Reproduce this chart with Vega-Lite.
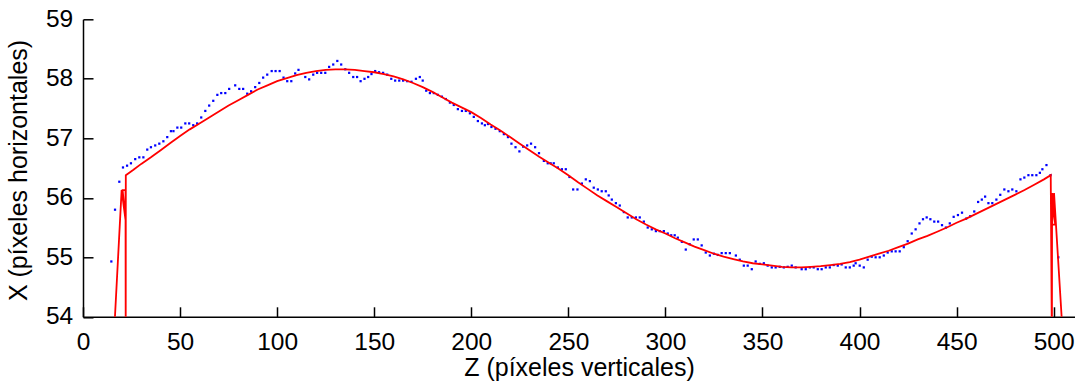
{
  "$schema": "https://vega.github.io/schema/vega-lite/v6.json",
  "width": 992,
  "height": 297.5,
  "autosize": {"type": "none"},
  "padding": {"left": 83, "top": 19.3, "right": 0, "bottom": 75.2},
  "background": "white",
  "config": {
    "view": {"stroke": null},
    "axis": {
      "grid": false,
      "domainColor": "black",
      "domainWidth": 1.5,
      "tickColor": "black",
      "tickWidth": 1.5,
      "tickSize": -10,
      "labelFont": "Liberation Sans",
      "labelFontSize": 24.5,
      "labelColor": "black",
      "labelFlush": false,
      "labelOverlap": false,
      "titleFont": "Liberation Sans",
      "titleFontSize": 25,
      "titleFontWeight": "normal",
      "titleColor": "black"
    }
  },
  "datasets": {
    "puntos": [
      {"z": 14.6, "x": 54.93}, {"z": 16.5, "x": 55.80}, {"z": 18.7, "x": 56.27}, {"z": 20.6, "x": 56.51},
      {"z": 22.7, "x": 56.54}, {"z": 24.7, "x": 56.58}, {"z": 26.9, "x": 56.65}, {"z": 29.0, "x": 56.68},
      {"z": 31.1, "x": 56.68}, {"z": 33.1, "x": 56.81}, {"z": 35.0, "x": 56.85}, {"z": 37.2, "x": 56.88},
      {"z": 39.3, "x": 56.91}, {"z": 41.4, "x": 56.95}, {"z": 43.4, "x": 57.02}, {"z": 45.3, "x": 57.12},
      {"z": 46.6, "x": 57.12}, {"z": 48.6, "x": 57.18}, {"z": 50.6, "x": 57.18}, {"z": 52.7, "x": 57.25},
      {"z": 54.7, "x": 57.25}, {"z": 56.8, "x": 57.22}, {"z": 58.8, "x": 57.25}, {"z": 60.9, "x": 57.35},
      {"z": 63.0, "x": 57.46}, {"z": 65.0, "x": 57.55}, {"z": 67.1, "x": 57.63}, {"z": 69.2, "x": 57.73},
      {"z": 71.2, "x": 57.76}, {"z": 73.3, "x": 57.76}, {"z": 75.3, "x": 57.83}, {"z": 78.4, "x": 57.89},
      {"z": 80.5, "x": 57.83}, {"z": 82.5, "x": 57.83}, {"z": 84.6, "x": 57.75}, {"z": 86.6, "x": 57.79},
      {"z": 88.7, "x": 57.86}, {"z": 90.8, "x": 57.93}, {"z": 92.8, "x": 58.02}, {"z": 94.9, "x": 58.07},
      {"z": 97.2, "x": 58.13}, {"z": 99.2, "x": 58.13}, {"z": 101.3, "x": 58.13}, {"z": 103.3, "x": 58.02},
      {"z": 105.2, "x": 57.96}, {"z": 107.3, "x": 57.96}, {"z": 109.3, "x": 58.09}, {"z": 111.0, "x": 58.15},
      {"z": 114.5, "x": 58.03}, {"z": 116.5, "x": 57.99}, {"z": 118.6, "x": 58.07}, {"z": 120.6, "x": 58.10},
      {"z": 122.7, "x": 58.10}, {"z": 124.8, "x": 58.10}, {"z": 126.8, "x": 58.20}, {"z": 128.9, "x": 58.24},
      {"z": 131.0, "x": 58.30}, {"z": 133.0, "x": 58.24}, {"z": 135.1, "x": 58.16}, {"z": 137.1, "x": 58.10},
      {"z": 139.2, "x": 58.03}, {"z": 141.2, "x": 58.03}, {"z": 143.0, "x": 57.96}, {"z": 145.0, "x": 58.00},
      {"z": 146.9, "x": 58.03}, {"z": 148.6, "x": 58.08}, {"z": 150.5, "x": 58.13}, {"z": 152.5, "x": 58.11},
      {"z": 154.6, "x": 58.10}, {"z": 156.7, "x": 58.07}, {"z": 158.8, "x": 58.00}, {"z": 160.8, "x": 57.97},
      {"z": 162.9, "x": 57.97}, {"z": 164.9, "x": 57.97}, {"z": 167.0, "x": 57.96}, {"z": 169.2, "x": 57.95},
      {"z": 171.5, "x": 58.00}, {"z": 173.5, "x": 58.03}, {"z": 175.0, "x": 57.97}, {"z": 176.8, "x": 57.80},
      {"z": 178.7, "x": 57.76}, {"z": 180.7, "x": 57.76}, {"z": 182.8, "x": 57.73}, {"z": 184.9, "x": 57.70},
      {"z": 186.9, "x": 57.66}, {"z": 189.0, "x": 57.60}, {"z": 191.0, "x": 57.56}, {"z": 193.1, "x": 57.49},
      {"z": 195.2, "x": 57.46}, {"z": 197.2, "x": 57.46}, {"z": 199.3, "x": 57.42}, {"z": 201.3, "x": 57.36},
      {"z": 203.4, "x": 57.29}, {"z": 205.5, "x": 57.25}, {"z": 207.0, "x": 57.22}, {"z": 208.6, "x": 57.24},
      {"z": 210.4, "x": 57.19}, {"z": 212.5, "x": 57.16}, {"z": 214.7, "x": 57.12}, {"z": 216.8, "x": 57.07},
      {"z": 218.9, "x": 57.02}, {"z": 220.7, "x": 56.91}, {"z": 222.8, "x": 56.85}, {"z": 224.8, "x": 56.78},
      {"z": 226.7, "x": 56.86}, {"z": 228.8, "x": 56.88}, {"z": 230.8, "x": 56.91}, {"z": 232.9, "x": 56.85},
      {"z": 234.9, "x": 56.75}, {"z": 237.4, "x": 56.62}, {"z": 239.4, "x": 56.58}, {"z": 240.9, "x": 56.58},
      {"z": 242.5, "x": 56.58}, {"z": 244.6, "x": 56.51}, {"z": 246.7, "x": 56.48}, {"z": 248.7, "x": 56.48},
      {"z": 250.6, "x": 56.35}, {"z": 252.5, "x": 56.14}, {"z": 254.7, "x": 56.14}, {"z": 257.0, "x": 56.24},
      {"z": 259.0, "x": 56.31}, {"z": 261.1, "x": 56.28}, {"z": 263.1, "x": 56.17}, {"z": 265.2, "x": 56.14},
      {"z": 267.2, "x": 56.11}, {"z": 269.3, "x": 56.11}, {"z": 270.8, "x": 56.04}, {"z": 272.4, "x": 55.97},
      {"z": 274.5, "x": 55.91}, {"z": 276.5, "x": 55.87}, {"z": 278.6, "x": 55.76}, {"z": 280.6, "x": 55.67},
      {"z": 282.7, "x": 55.67}, {"z": 284.8, "x": 55.67}, {"z": 286.8, "x": 55.67}, {"z": 288.9, "x": 55.60},
      {"z": 290.9, "x": 55.50}, {"z": 293.0, "x": 55.47}, {"z": 295.1, "x": 55.44}, {"z": 297.1, "x": 55.44},
      {"z": 299.2, "x": 55.44}, {"z": 301.2, "x": 55.40}, {"z": 303.0, "x": 55.37}, {"z": 304.8, "x": 55.37},
      {"z": 306.4, "x": 55.33}, {"z": 308.5, "x": 55.26}, {"z": 310.5, "x": 55.13}, {"z": 312.5, "x": 55.22},
      {"z": 314.6, "x": 55.30}, {"z": 316.7, "x": 55.30}, {"z": 318.7, "x": 55.20}, {"z": 320.8, "x": 55.08},
      {"z": 322.9, "x": 55.03}, {"z": 325.0, "x": 55.06}, {"z": 327.0, "x": 55.04}, {"z": 329.0, "x": 55.07},
      {"z": 331.1, "x": 55.07}, {"z": 333.2, "x": 55.07}, {"z": 336.3, "x": 55.03}, {"z": 338.3, "x": 54.96},
      {"z": 340.4, "x": 54.86}, {"z": 342.4, "x": 54.86}, {"z": 344.5, "x": 54.80}, {"z": 346.5, "x": 54.93},
      {"z": 348.6, "x": 54.89}, {"z": 350.7, "x": 54.90}, {"z": 352.7, "x": 54.86}, {"z": 354.8, "x": 54.83},
      {"z": 356.8, "x": 54.83}, {"z": 358.9, "x": 54.84}, {"z": 361.0, "x": 54.83}, {"z": 363.0, "x": 54.84},
      {"z": 365.1, "x": 54.86}, {"z": 367.1, "x": 54.83}, {"z": 370.2, "x": 54.80}, {"z": 372.3, "x": 54.80},
      {"z": 374.4, "x": 54.83}, {"z": 376.4, "x": 54.83}, {"z": 378.5, "x": 54.80}, {"z": 380.5, "x": 54.80},
      {"z": 382.6, "x": 54.83}, {"z": 384.7, "x": 54.83}, {"z": 386.7, "x": 54.87}, {"z": 388.8, "x": 54.86},
      {"z": 390.8, "x": 54.88}, {"z": 392.9, "x": 54.83}, {"z": 395.0, "x": 54.83}, {"z": 397.0, "x": 54.86},
      {"z": 398.0, "x": 54.90}, {"z": 400.1, "x": 54.86}, {"z": 402.2, "x": 54.83}, {"z": 404.2, "x": 54.96},
      {"z": 406.3, "x": 55.01}, {"z": 408.3, "x": 55.00}, {"z": 410.4, "x": 55.00}, {"z": 412.5, "x": 55.03},
      {"z": 414.5, "x": 55.08}, {"z": 416.6, "x": 55.10}, {"z": 418.6, "x": 55.10}, {"z": 420.7, "x": 55.10},
      {"z": 422.8, "x": 55.17}, {"z": 424.8, "x": 55.27}, {"z": 426.9, "x": 55.40}, {"z": 428.9, "x": 55.47},
      {"z": 430.9, "x": 55.57}, {"z": 432.7, "x": 55.64}, {"z": 434.6, "x": 55.67}, {"z": 436.5, "x": 55.64},
      {"z": 438.5, "x": 55.60}, {"z": 440.5, "x": 55.60}, {"z": 442.5, "x": 55.54}, {"z": 444.5, "x": 55.50},
      {"z": 446.5, "x": 55.57}, {"z": 448.5, "x": 55.68}, {"z": 450.7, "x": 55.71}, {"z": 452.8, "x": 55.75},
      {"z": 454.9, "x": 55.65}, {"z": 457.0, "x": 55.69}, {"z": 459.1, "x": 55.77}, {"z": 461.1, "x": 55.93},
      {"z": 463.0, "x": 55.97}, {"z": 464.7, "x": 56.02}, {"z": 466.4, "x": 55.91}, {"z": 468.4, "x": 55.91},
      {"z": 470.5, "x": 55.97}, {"z": 472.5, "x": 56.05}, {"z": 474.6, "x": 56.14}, {"z": 476.7, "x": 56.11},
      {"z": 478.7, "x": 56.14}, {"z": 480.8, "x": 56.11}, {"z": 482.9, "x": 56.31}, {"z": 484.9, "x": 56.34},
      {"z": 487.0, "x": 56.38}, {"z": 489.0, "x": 56.38}, {"z": 491.1, "x": 56.38}, {"z": 492.9, "x": 56.42},
      {"z": 494.2, "x": 56.48}, {"z": 496.3, "x": 56.55}, {"z": 498.4, "x": 56.38}, {"z": 502.4, "x": 55.00}
    ],
    "ajuste": [
      {"i": 0, "z": 16.3, "x": 53.9}, {"i": 1, "z": 19.9, "x": 56.13}, {"i": 2, "z": 21.9, "x": 55.63},
      {"i": 3, "z": 20.4, "x": 56.13}, {"i": 4, "z": 21.9, "x": 56.13},
      {"i": 5, "z": 22.0, "x": 53.5}, {"i": 6, "z": 22.05, "x": 56.38}, {"i": 7, "z": 26, "x": 56.47},
      {"i": 8, "z": 30, "x": 56.57}, {"i": 9, "z": 35, "x": 56.68}, {"i": 10, "z": 40, "x": 56.80},
      {"i": 11, "z": 45, "x": 56.92}, {"i": 12, "z": 50, "x": 57.04}, {"i": 13, "z": 55, "x": 57.15},
      {"i": 14, "z": 60, "x": 57.25}, {"i": 15, "z": 65, "x": 57.35}, {"i": 16, "z": 70, "x": 57.45},
      {"i": 17, "z": 75, "x": 57.55}, {"i": 18, "z": 80, "x": 57.64}, {"i": 19, "z": 85, "x": 57.73},
      {"i": 20, "z": 90, "x": 57.82}, {"i": 21, "z": 95, "x": 57.89}, {"i": 22, "z": 100, "x": 57.96},
      {"i": 23, "z": 105, "x": 58.01}, {"i": 24, "z": 110, "x": 58.06}, {"i": 25, "z": 115, "x": 58.10},
      {"i": 26, "z": 120, "x": 58.13}, {"i": 27, "z": 125, "x": 58.15}, {"i": 28, "z": 130, "x": 58.16},
      {"i": 29, "z": 135, "x": 58.16}, {"i": 30, "z": 140, "x": 58.15}, {"i": 31, "z": 145, "x": 58.13},
      {"i": 32, "z": 150, "x": 58.11}, {"i": 33, "z": 155, "x": 58.08}, {"i": 34, "z": 160, "x": 58.04},
      {"i": 35, "z": 165, "x": 57.99}, {"i": 36, "z": 170, "x": 57.93}, {"i": 37, "z": 175, "x": 57.86},
      {"i": 38, "z": 180, "x": 57.78}, {"i": 39, "z": 185, "x": 57.69}, {"i": 40, "z": 190, "x": 57.60},
      {"i": 41, "z": 195, "x": 57.52}, {"i": 42, "z": 200, "x": 57.44}, {"i": 43, "z": 205, "x": 57.34},
      {"i": 44, "z": 210, "x": 57.23}, {"i": 45, "z": 215, "x": 57.13}, {"i": 46, "z": 220, "x": 57.02},
      {"i": 47, "z": 225, "x": 56.91}, {"i": 48, "z": 230, "x": 56.80}, {"i": 49, "z": 235, "x": 56.69},
      {"i": 50, "z": 240, "x": 56.59}, {"i": 51, "z": 245, "x": 56.49}, {"i": 52, "z": 250, "x": 56.38},
      {"i": 53, "z": 255, "x": 56.26}, {"i": 54, "z": 260, "x": 56.15}, {"i": 55, "z": 265, "x": 56.04},
      {"i": 56, "z": 270, "x": 55.94}, {"i": 57, "z": 275, "x": 55.84}, {"i": 58, "z": 280, "x": 55.74},
      {"i": 59, "z": 285, "x": 55.64}, {"i": 60, "z": 290, "x": 55.55}, {"i": 61, "z": 295, "x": 55.47},
      {"i": 62, "z": 300, "x": 55.40}, {"i": 63, "z": 305, "x": 55.32}, {"i": 64, "z": 310, "x": 55.25},
      {"i": 65, "z": 315, "x": 55.18}, {"i": 66, "z": 320, "x": 55.12}, {"i": 67, "z": 325, "x": 55.06},
      {"i": 68, "z": 330, "x": 55.01}, {"i": 69, "z": 335, "x": 54.97}, {"i": 70, "z": 340, "x": 54.93},
      {"i": 71, "z": 345, "x": 54.90}, {"i": 72, "z": 350, "x": 54.88}, {"i": 73, "z": 355, "x": 54.86},
      {"i": 74, "z": 360, "x": 54.84}, {"i": 75, "z": 365, "x": 54.83}, {"i": 76, "z": 370, "x": 54.83},
      {"i": 77, "z": 375, "x": 54.84}, {"i": 78, "z": 380, "x": 54.85}, {"i": 79, "z": 385, "x": 54.87},
      {"i": 80, "z": 390, "x": 54.89}, {"i": 81, "z": 395, "x": 54.92}, {"i": 82, "z": 400, "x": 54.96},
      {"i": 83, "z": 405, "x": 55.01}, {"i": 84, "z": 410, "x": 55.06}, {"i": 85, "z": 415, "x": 55.11},
      {"i": 86, "z": 420, "x": 55.17}, {"i": 87, "z": 425, "x": 55.23}, {"i": 88, "z": 430, "x": 55.30},
      {"i": 89, "z": 435, "x": 55.36}, {"i": 90, "z": 440, "x": 55.43}, {"i": 91, "z": 445, "x": 55.50},
      {"i": 92, "z": 450, "x": 55.58}, {"i": 93, "z": 455, "x": 55.65}, {"i": 94, "z": 460, "x": 55.73},
      {"i": 95, "z": 465, "x": 55.81}, {"i": 96, "z": 470, "x": 55.89}, {"i": 97, "z": 475, "x": 55.97},
      {"i": 98, "z": 480, "x": 56.05}, {"i": 99, "z": 485, "x": 56.13}, {"i": 100, "z": 490, "x": 56.22},
      {"i": 101, "z": 495, "x": 56.31}, {"i": 102, "z": 498.5, "x": 56.38}, {"i": 103, "z": 499.1, "x": 53.5},
      {"i": 104, "z": 499.2, "x": 56.08}, {"i": 105, "z": 500.8, "x": 55.55}, {"i": 106, "z": 499.2, "x": 55.55},
      {"i": 107, "z": 500.2, "x": 56.08}, {"i": 108, "z": 504.3, "x": 53.9}
    ]
  },
  "layer": [
    {
      "data": {"name": "puntos"},
      "mark": {"type": "point", "shape": "square", "filled": true, "size": 5, "color": "#0000ff", "opacity": 1, "strokeWidth": 0},
      "encoding": {
        "x": {
          "field": "z", "type": "quantitative",
          "scale": {"domain": [0, 511], "nice": false, "zero": false},
          "axis": {
            "title": "Z (píxeles verticales)",
            "values": [0, 50, 100, 150, 200, 250, 300, 350, 400, 450, 500],
            "format": "d",
            "labelPadding": 23.5,
            "titleBaseline": "alphabetic",
            "titleX": 496,
            "titleY": 59
          }
        },
        "y": {
          "field": "x", "type": "quantitative",
          "scale": {"domain": [54, 59], "nice": false, "zero": false},
          "axis": {
            "title": "X (píxeles horizontales)",
            "values": [54, 55, 56, 57, 58, 59],
            "format": "d",
            "labelPadding": 20.3,
            "titleAngle": -90,
            "titleAlign": "center",
            "titleBaseline": "alphabetic",
            "titleX": -57,
            "titleY": 150.7
          }
        }
      }
    },
    {
      "data": {"name": "ajuste"},
      "mark": {"type": "line", "color": "#ff0000", "strokeWidth": 1.8, "clip": true},
      "encoding": {
        "x": {"field": "z", "type": "quantitative"},
        "y": {"field": "x", "type": "quantitative"},
        "order": {"field": "i", "type": "quantitative"}
      }
    }
  ]
}
